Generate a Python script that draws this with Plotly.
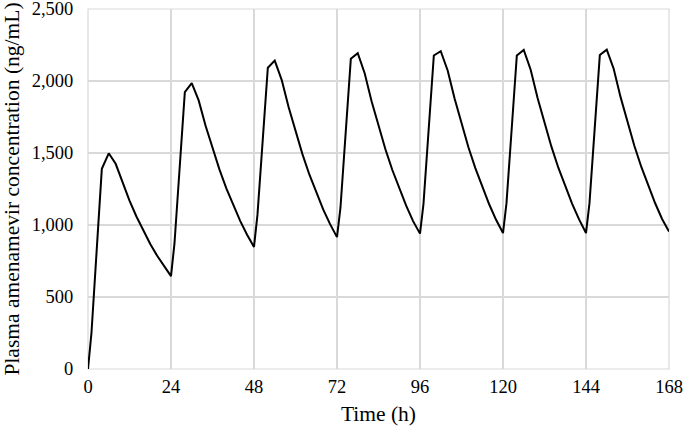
import plotly.graph_objects as go

# Time points (h)
time_h = [0, 1, 4, 6, 8, 10, 12, 14, 16, 18, 20, 22,
          24, 25, 28, 30, 32, 34, 36, 38, 40, 42, 44, 46,
          48, 49, 52, 54, 56, 58, 60, 62, 64, 66, 68, 70,
          72, 73, 76, 78, 80, 82, 84, 86, 88, 90, 92, 94,
          96, 97, 100, 102, 104, 106, 108, 110, 112, 114, 116, 118,
          120, 121, 124, 126, 128, 130, 132, 134, 136, 138, 140, 142,
          144, 145, 148, 150, 152, 154, 156, 158, 160, 162, 164, 166, 168]

# Plasma amenamevir concentration (ng/mL)
conc = [0, 250, 1390, 1498, 1425, 1291, 1169, 1059, 959, 868, 786, 712,
        645, 870, 1922, 1985, 1865, 1689, 1530, 1386, 1255, 1137, 1029, 932,
        848, 1070, 2092, 2142, 2008, 1819, 1647, 1492, 1351, 1224, 1108, 1006,
        916, 1120, 2154, 2193, 2054, 1860, 1685, 1526, 1382, 1252, 1134, 1027,
        940, 1145, 2177, 2207, 2073, 1878, 1700, 1540, 1395, 1263, 1144, 1036,
        944, 1150, 2177, 2216, 2078, 1882, 1705, 1544, 1398, 1266, 1147, 1039,
        944, 1150, 2180, 2218, 2085, 1888, 1710, 1549, 1403, 1271, 1151, 1042, 954]

x_ticks = [0, 24, 48, 72, 96, 120, 144, 168]
y_ticks = [0, 500, 1000, 1500, 2000, 2500]
y_tick_labels = ["0", "500", "1,000", "1,500", "2,000", "2,500"]

FONT = "Liberation Serif, Times New Roman, serif"
GRID = "#d9d9d9"

fig = go.Figure()
fig.add_trace(go.Scatter(
    x=time_h, y=conc, mode="lines",
    line=dict(color="black", width=2),
    showlegend=False, hoverinfo="skip", cliponaxis=False,
))

# border gridlines at the ends of both axes
fig.add_shape(type="rect", xref="paper", yref="paper", x0=0, x1=1, y0=0, y1=1,
              line=dict(color=GRID, width=1.2), layer="below")

fig.update_layout(
    width=685, height=429,
    margin=dict(l=88, r=16, t=9, b=60, autoexpand=False),
    paper_bgcolor="white", plot_bgcolor="white",
    font=dict(family=FONT, size=18.5, color="black"),
)
fig.update_xaxes(
    range=[0, 168], tickvals=x_ticks,
    showgrid=True, gridcolor=GRID, gridwidth=1.2,
    zeroline=False, showline=False, automargin=False,
    ticks="outside", ticklen=1, tickcolor="rgba(0,0,0,0)",
    ticklabeloverflow="allow",
    tickfont=dict(family=FONT, size=18.5),
    title=dict(text="Time (h)", standoff=9, font=dict(family=FONT, size=21.5)),
)
fig.update_yaxes(
    range=[0, 2500], tickvals=y_ticks, ticktext=y_tick_labels,
    showgrid=True, gridcolor=GRID, gridwidth=1.2,
    zeroline=False, showline=False, automargin=False,
    ticks="outside", ticklen=10, tickcolor="rgba(0,0,0,0)",
    ticklabeloverflow="allow",
    tickfont=dict(family=FONT, size=18.5),
    title=dict(text="Plasma amenamevir concentration (ng/mL)", standoff=14,
               font=dict(family=FONT, size=21.5)),
)

fig.write_html("out.html",
               config={"displayModeBar": False, "staticPlot": True},
               post_script="document.body.style.margin='0';document.body.style.padding='0';")
